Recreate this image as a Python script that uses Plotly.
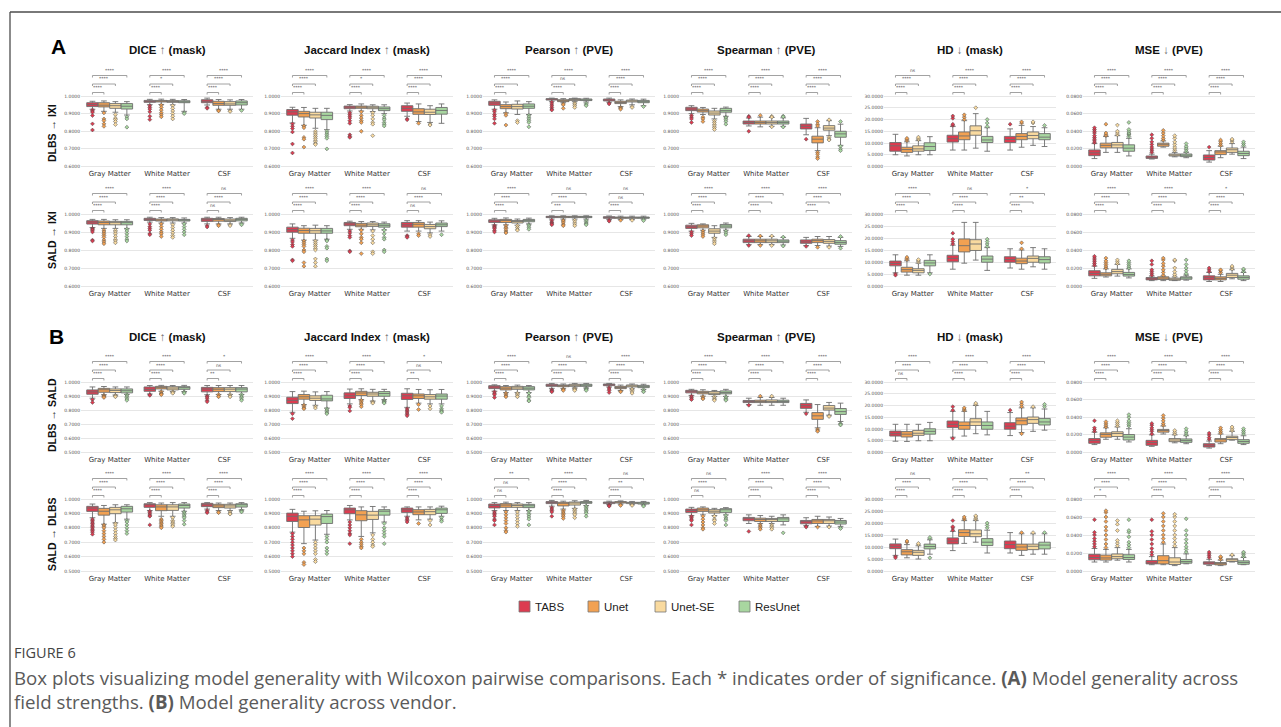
import plotly.graph_objects as go

# ---------------------------------------------------------------- labels
MODELS = ["TABS", "Unet", "Unet-SE", "ResUnet"]
COLORS = ["#dc3c50", "#f2a152", "#f9da9f", "#a8d6a0"]
TISSUES = ["Gray Matter", "White Matter", "CSF"]
METRIC_TITLES = ["DICE ↑ (mask)", "Jaccard Index ↑ (mask)", "Pearson ↑ (PVE)",
                 "Spearman ↑ (PVE)", "HD ↓ (mask)", "MSE ↓ (PVE)"]
ROW_LABELS = ["DLBS → IXI", "SALD → IXI", "DLBS → SALD", "SALD → DLBS"]
PANEL_LETTERS = ["A", "B"]

TICKS_A = [0.6, 0.7, 0.8, 0.9, 1.0]
TICKS_B = [0.5, 0.6, 0.7, 0.8, 0.9, 1.0]
TICKS_HD = [0, 5, 10, 15, 20, 25, 30]
TICKS_MSE = [0.0, 0.02, 0.04, 0.06, 0.08]

# ---------------------------------------------------------------- box statistics
# each box: (lower whisker, q1, median, q3, upper whisker, [outliers]) for GM, WM, CSF

# (A) DLBS -> IXI
DICE_A1 = {
    "TABS": [(0.925, 0.940, 0.951, 0.962, 0.970, [0.921, 0.915, 0.908, 0.889, 0.842, 0.807]),
             (0.951, 0.964, 0.970, 0.975, 0.981, [0.945, 0.935, 0.925, 0.910, 0.885, 0.866]),
             (0.949, 0.962, 0.970, 0.979, 0.988, [0.935, 0.930])],
    "Unet": [(0.913, 0.938, 0.948, 0.962, 0.972, [0.904, 0.870, 0.860, 0.842, 0.828]),
             (0.952, 0.966, 0.971, 0.975, 0.982, [0.948, 0.935, 0.920, 0.905, 0.893, 0.882]),
             (0.925, 0.947, 0.957, 0.970, 0.980, [0.918, 0.915])],
    "Unet-SE": [(0.908, 0.930, 0.945, 0.957, 0.968, [0.894, 0.875, 0.866, 0.855, 0.838]),
                (0.950, 0.964, 0.969, 0.974, 0.981, [0.945, 0.930, 0.915, 0.900, 0.885, 0.870]),
                (0.925, 0.947, 0.955, 0.968, 0.978, [0.915, 0.912])],
    "ResUnet": [(0.892, 0.926, 0.942, 0.957, 0.968, [0.881, 0.870, 0.823]),
                (0.913, 0.962, 0.966, 0.973, 0.980, [0.905, 0.900]),
                (0.925, 0.949, 0.962, 0.972, 0.980, [0.918])],
}
JACC_A1 = {
    "TABS": [(0.847, 0.891, 0.910, 0.923, 0.936, [0.842, 0.828, 0.815, 0.796, 0.728, 0.677]),
             (0.915, 0.928, 0.937, 0.943, 0.951, [0.905, 0.895, 0.885, 0.875, 0.860, 0.845, 0.780, 0.770, 0.765]),
             (0.885, 0.913, 0.930, 0.945, 0.960, [0.870, 0.865])],
    "Unet": [(0.834, 0.881, 0.900, 0.913, 0.935, [0.830, 0.820, 0.765, 0.755, 0.710]),
             (0.915, 0.930, 0.939, 0.943, 0.955, [0.910, 0.890, 0.875, 0.860, 0.850, 0.800]),
             (0.855, 0.896, 0.910, 0.928, 0.955, [0.845])],
    "Unet-SE": [(0.817, 0.875, 0.893, 0.908, 0.930, [0.800, 0.790, 0.780, 0.770, 0.760, 0.750, 0.740, 0.730, 0.725]),
                (0.912, 0.928, 0.936, 0.942, 0.950, [0.905, 0.890, 0.870, 0.850, 0.840, 0.775]),
                (0.850, 0.895, 0.908, 0.925, 0.945, [0.840, 0.835])],
    "ResUnet": [(0.809, 0.866, 0.890, 0.908, 0.930, [0.800, 0.790, 0.780, 0.770, 0.760, 0.700]),
                (0.900, 0.917, 0.928, 0.938, 0.950, [0.890, 0.875, 0.865, 0.850, 0.840, 0.830]),
                (0.845, 0.897, 0.918, 0.935, 0.955, [])],
}
PEAR_A1 = {
    "TABS": [(0.925, 0.947, 0.960, 0.970, 0.978, [0.920, 0.910, 0.895, 0.885, 0.870, 0.845]),
             (0.970, 0.977, 0.982, 0.985, 0.988, [0.965, 0.955, 0.945, 0.935, 0.925, 0.920]),
             (0.965, 0.972, 0.977, 0.983, 0.988, [0.960, 0.955])],
    "Unet": [(0.905, 0.928, 0.940, 0.951, 0.966, [0.900, 0.890, 0.835]),
             (0.962, 0.968, 0.972, 0.979, 0.985, [0.955, 0.950, 0.930]),
             (0.940, 0.957, 0.963, 0.970, 0.978, [0.935, 0.930, 0.925])],
    "Unet-SE": [(0.895, 0.926, 0.940, 0.953, 0.972, [0.860, 0.850]),
                (0.968, 0.975, 0.981, 0.985, 0.988, [0.960, 0.955, 0.945, 0.935]),
                (0.950, 0.966, 0.972, 0.977, 0.983, [0.940, 0.935])],
    "ResUnet": [(0.895, 0.930, 0.942, 0.955, 0.968, [0.890, 0.880, 0.870, 0.860, 0.850, 0.825]),
                (0.966, 0.974, 0.978, 0.983, 0.987, [0.958, 0.950, 0.945]),
                (0.945, 0.962, 0.968, 0.975, 0.982, [0.940])],
}
SPEA_A1 = {
    "TABS": [(0.900, 0.917, 0.926, 0.936, 0.945, [0.890, 0.880, 0.870, 0.850]),
             (0.830, 0.841, 0.850, 0.858, 0.875, [0.885, 0.880, 0.800]),
             (0.780, 0.813, 0.828, 0.841, 0.873, [0.755])],
    "Unet": [(0.895, 0.909, 0.917, 0.926, 0.935, [0.880, 0.870, 0.855]),
             (0.825, 0.841, 0.850, 0.858, 0.880, [0.890]),
             (0.690, 0.734, 0.755, 0.772, 0.820, [0.855, 0.840, 0.830, 0.680, 0.670, 0.655, 0.645])],
    "Unet-SE": [(0.870, 0.892, 0.903, 0.915, 0.930, [0.860, 0.850, 0.840, 0.830, 0.820, 0.810]),
                (0.828, 0.841, 0.850, 0.858, 0.878, [0.885, 0.880, 0.825]),
                (0.775, 0.806, 0.818, 0.832, 0.860, [0.865, 0.765, 0.755, 0.750])],
    "ResUnet": [(0.885, 0.908, 0.917, 0.930, 0.937, [0.880, 0.875, 0.865, 0.855, 0.840]),
                (0.828, 0.841, 0.850, 0.858, 0.876, [0.886, 0.882, 0.824]),
                (0.720, 0.766, 0.785, 0.800, 0.840, [0.855, 0.715, 0.700, 0.690])],
}
HD_A1 = {
    "TABS": [(5.0, 6.5, 8.8, 10.2, 13.7, []),
             (7.0, 10.4, 11.8, 13.3, 17.0, [17.5, 18.0, 20.5, 21.5]),
             (7.0, 10.2, 11.5, 12.8, 16.0, [18.0])],
    "Unet": [(4.5, 6.0, 7.2, 8.2, 10.5, [11.0, 11.5, 12.0]),
             (7.0, 11.4, 13.0, 14.7, 19.5, [20.0, 21.0, 22.0]),
             (8.2, 11.4, 12.8, 14.0, 17.5, [18.5, 19.0])],
    "Unet-SE": [(5.0, 6.5, 7.5, 8.8, 11.0, [11.5, 12.0, 12.5]),
                (7.8, 13.3, 15.2, 17.3, 22.5, [25.0]),
                (9.0, 11.8, 13.2, 14.7, 17.0, [18.5, 19.0])],
    "ResUnet": [(5.0, 6.8, 8.5, 10.1, 12.7, []),
                (6.5, 10.2, 11.3, 12.8, 16.5, [17.0, 18.5, 20.0]),
                (8.5, 11.4, 12.5, 14.0, 16.5, [17.5])],
}
MSE_A1 = {
    "TABS": [(0.009, 0.0123, 0.0155, 0.0188, 0.026, [0.027, 0.029, 0.031, 0.033, 0.035, 0.038, 0.040, 0.042, 0.044]),
             (0.0085, 0.0092, 0.0105, 0.0119, 0.014, [0.016, 0.018, 0.020, 0.022, 0.025, 0.028, 0.032, 0.036]),
             (0.005, 0.0073, 0.0102, 0.0131, 0.018, [0.022])],
    "Unet": [(0.016, 0.0212, 0.024, 0.0265, 0.034, [0.035, 0.036, 0.038, 0.048]),
             (0.022, 0.023, 0.0252, 0.0265, 0.029, [0.030, 0.032, 0.035, 0.038, 0.041]),
             (0.010, 0.0135, 0.0165, 0.018, 0.023, [0.024, 0.026, 0.028, 0.030])],
    "Unet-SE": [(0.016, 0.0212, 0.0245, 0.0273, 0.035, [0.036, 0.038, 0.040, 0.047]),
                (0.011, 0.0119, 0.013, 0.0142, 0.016, [0.018, 0.020, 0.022, 0.025, 0.028, 0.032, 0.035]),
                (0.014, 0.016, 0.019, 0.021, 0.026, [0.028, 0.030, 0.031])],
    "ResUnet": [(0.012, 0.0173, 0.0208, 0.0246, 0.032, [0.034, 0.036, 0.037, 0.038, 0.040, 0.042, 0.050]),
                (0.010, 0.0112, 0.0128, 0.0142, 0.016, [0.017, 0.019, 0.021, 0.023, 0.026]),
                (0.009, 0.0123, 0.0148, 0.0173, 0.022, [0.024, 0.026, 0.028])],
}

# (A) SALD -> IXI
DICE_A2 = {
    "TABS": [(0.925, 0.944, 0.955, 0.963, 0.970, [0.920, 0.915, 0.910, 0.900, 0.855, 0.850]),
             (0.955, 0.964, 0.972, 0.976, 0.982, [0.945, 0.930, 0.920, 0.910, 0.890, 0.885]),
             (0.945, 0.959, 0.968, 0.976, 0.982, [0.935, 0.928])],
    "Unet": [(0.920, 0.940, 0.953, 0.961, 0.970, [0.910, 0.900, 0.890, 0.880, 0.870, 0.855, 0.845, 0.835]),
             (0.950, 0.961, 0.968, 0.972, 0.980, [0.945, 0.930, 0.915, 0.900, 0.890, 0.875]),
             (0.945, 0.960, 0.970, 0.975, 0.982, [0.940, 0.935])],
    "Unet-SE": [(0.920, 0.940, 0.952, 0.959, 0.968, [0.910, 0.900, 0.890, 0.875, 0.860, 0.850, 0.840]),
                (0.950, 0.962, 0.969, 0.973, 0.980, [0.940, 0.925, 0.910, 0.895, 0.880, 0.870]),
                (0.945, 0.958, 0.965, 0.972, 0.980, [0.940, 0.935])],
    "ResUnet": [(0.920, 0.940, 0.952, 0.959, 0.968, [0.915, 0.905, 0.890, 0.875, 0.860, 0.850]),
                (0.950, 0.961, 0.966, 0.970, 0.978, [0.945, 0.930, 0.915, 0.900, 0.885]),
                (0.950, 0.962, 0.970, 0.976, 0.982, [0.945, 0.940])],
}
JACC_A2 = {
    "TABS": [(0.865, 0.899, 0.913, 0.927, 0.945, [0.855, 0.845, 0.830, 0.820, 0.745, 0.740]),
             (0.915, 0.935, 0.945, 0.953, 0.960, [0.905, 0.895, 0.880, 0.870, 0.795, 0.790]),
             (0.905, 0.927, 0.940, 0.953, 0.963, [0.880, 0.875, 0.870])],
    "Unet": [(0.855, 0.893, 0.908, 0.921, 0.935, [0.850, 0.840, 0.830, 0.820, 0.800, 0.790, 0.730, 0.710]),
             (0.915, 0.929, 0.938, 0.948, 0.958, [0.910, 0.890, 0.870, 0.860, 0.840, 0.780]),
             (0.905, 0.927, 0.943, 0.953, 0.963, [0.890, 0.880])],
    "Unet-SE": [(0.855, 0.893, 0.907, 0.920, 0.938, [0.850, 0.840, 0.830, 0.820, 0.810, 0.800, 0.750, 0.730, 0.710]),
                (0.912, 0.931, 0.940, 0.950, 0.958, [0.905, 0.880, 0.860, 0.840, 0.790, 0.780]),
                (0.895, 0.918, 0.930, 0.942, 0.955, [0.885, 0.875])],
    "ResUnet": [(0.860, 0.893, 0.906, 0.920, 0.935, [0.855, 0.850, 0.820, 0.810, 0.750, 0.740]),
                (0.912, 0.927, 0.937, 0.946, 0.955, [0.910, 0.890, 0.870, 0.860, 0.800, 0.790]),
                (0.905, 0.930, 0.940, 0.950, 0.962, [0.885])],
}
PEAR_A2 = {
    "TABS": [(0.940, 0.953, 0.962, 0.968, 0.976, [0.935, 0.930, 0.925, 0.920, 0.910, 0.900]),
             (0.972, 0.980, 0.984, 0.987, 0.990, [0.965, 0.955, 0.950, 0.945, 0.940]),
             (0.970, 0.976, 0.981, 0.985, 0.989, [0.965, 0.960])],
    "Unet": [(0.940, 0.953, 0.964, 0.970, 0.978, [0.935, 0.925, 0.920, 0.910, 0.900, 0.895]),
             (0.972, 0.980, 0.984, 0.987, 0.990, [0.965, 0.960, 0.950, 0.940, 0.935]),
             (0.970, 0.976, 0.980, 0.983, 0.988, [0.965])],
    "Unet-SE": [(0.938, 0.950, 0.958, 0.964, 0.972, [0.935, 0.925, 0.915, 0.910]),
                (0.972, 0.980, 0.984, 0.987, 0.990, [0.965, 0.955, 0.945, 0.935]),
                (0.970, 0.976, 0.980, 0.983, 0.988, [0.965])],
    "ResUnet": [(0.945, 0.957, 0.965, 0.970, 0.977, [0.940, 0.935, 0.925, 0.915]),
                (0.972, 0.980, 0.984, 0.987, 0.990, [0.965, 0.958, 0.950, 0.945, 0.940]),
                (0.972, 0.976, 0.980, 0.983, 0.988, [0.968, 0.963])],
}
SPEA_A2 = {
    "TABS": [(0.905, 0.920, 0.929, 0.938, 0.948, [0.900, 0.890, 0.880]),
             (0.830, 0.841, 0.851, 0.860, 0.875, [0.880, 0.825]),
             (0.825, 0.837, 0.845, 0.856, 0.870, [0.820])],
    "Unet": [(0.910, 0.923, 0.933, 0.940, 0.945, [0.905, 0.895, 0.885, 0.875]),
             (0.830, 0.841, 0.851, 0.860, 0.875, [0.878, 0.825]),
             (0.825, 0.841, 0.852, 0.860, 0.875, [0.815])],
    "Unet-SE": [(0.870, 0.893, 0.905, 0.918, 0.935, [0.865, 0.855, 0.845, 0.835]),
                (0.830, 0.841, 0.851, 0.860, 0.875, [0.878, 0.825]),
                (0.822, 0.837, 0.848, 0.858, 0.875, [0.815])],
    "ResUnet": [(0.910, 0.923, 0.933, 0.942, 0.950, [0.905, 0.895, 0.885]),
                (0.828, 0.841, 0.849, 0.856, 0.870, [0.872, 0.822]),
                (0.820, 0.832, 0.842, 0.852, 0.870, [0.875, 0.810])],
}
HD_A2 = {
    "TABS": [(5.5, 8.4, 9.4, 10.4, 13.0, [5.0, 4.5]),
             (7.0, 10.1, 11.5, 12.8, 17.0, [17.5, 18.5, 19.5, 22.0]),
             (7.5, 9.9, 11.0, 12.2, 15.5, [])],
    "Unet": [(4.5, 5.8, 6.8, 7.8, 10.5, [11.0, 11.5, 12.0]),
             (9.5, 14.2, 16.8, 19.6, 26.5, []),
             (7.0, 9.3, 10.4, 11.6, 15.0, [15.5, 18.0])],
    "Unet-SE": [(4.5, 5.5, 6.5, 7.2, 9.5, [10.0, 10.5, 11.0]),
                (10.8, 14.8, 17.5, 19.3, 26.5, []),
                (8.0, 9.9, 11.5, 12.5, 16.0, [])],
    "ResUnet": [(5.5, 8.4, 9.6, 10.7, 13.0, [5.0]),
                (6.5, 9.9, 11.2, 12.5, 16.0, [16.5, 17.5, 18.5, 19.5]),
                (7.0, 9.6, 11.0, 12.2, 15.5, [])],
}
MSE_A2 = {
    "TABS": [(0.0085, 0.0113, 0.0140, 0.0170, 0.022, [0.023, 0.025, 0.027, 0.029, 0.031, 0.033]),
             (0.006, 0.0068, 0.0080, 0.0094, 0.011, [0.012, 0.014, 0.016, 0.018, 0.024, 0.028]),
             (0.005, 0.0068, 0.0092, 0.0113, 0.015, [0.016, 0.018, 0.020])],
    "Unet": [(0.010, 0.0113, 0.0130, 0.0147, 0.019, [0.020, 0.022, 0.024, 0.026, 0.028, 0.031]),
             (0.006, 0.0072, 0.0088, 0.0102, 0.011, [0.012, 0.015, 0.018, 0.022, 0.025, 0.029, 0.031]),
             (0.005, 0.0068, 0.0085, 0.0102, 0.013, [0.015, 0.017, 0.018])],
    "Unet-SE": [(0.011, 0.0136, 0.0160, 0.0185, 0.024, [0.025, 0.027, 0.029]),
                (0.006, 0.0064, 0.0075, 0.0087, 0.010, [0.011, 0.013, 0.016, 0.020, 0.028, 0.029]),
                (0.008, 0.0094, 0.0120, 0.0140, 0.018, [0.019, 0.021, 0.022])],
    "ResUnet": [(0.009, 0.0110, 0.0128, 0.0151, 0.019, [0.020, 0.022, 0.024, 0.026, 0.028]),
                (0.0065, 0.0075, 0.0090, 0.0102, 0.012, [0.013, 0.014, 0.017, 0.020, 0.024, 0.029]),
                (0.006, 0.0075, 0.0095, 0.0113, 0.015, [0.016, 0.018, 0.019])],
}

# (B) DLBS -> SALD
DICE_B1 = {
    "TABS": [(0.885, 0.913, 0.930, 0.944, 0.965, [0.875, 0.855]),
             (0.915, 0.934, 0.948, 0.965, 0.975, [0.910, 0.905]),
             (0.910, 0.930, 0.950, 0.962, 0.975, [0.900, 0.895, 0.885, 0.870, 0.860])],
    "Unet": [(0.910, 0.927, 0.945, 0.955, 0.968, [0.905, 0.900, 0.895, 0.890]),
             (0.935, 0.951, 0.962, 0.969, 0.976, [0.930, 0.920, 0.915, 0.910]),
             (0.912, 0.932, 0.949, 0.960, 0.975, [0.910, 0.900, 0.895])],
    "Unet-SE": [(0.908, 0.925, 0.940, 0.951, 0.965, [0.905, 0.900, 0.895]),
                (0.932, 0.944, 0.957, 0.967, 0.975, [0.930, 0.925, 0.920]),
                (0.912, 0.932, 0.949, 0.960, 0.975, [0.910, 0.900, 0.895])],
    "ResUnet": [(0.912, 0.923, 0.938, 0.951, 0.965, [0.910, 0.900, 0.890, 0.880, 0.870]),
                (0.932, 0.948, 0.960, 0.967, 0.976, [0.930, 0.925, 0.920]),
                (0.912, 0.930, 0.950, 0.960, 0.975, [0.910, 0.900, 0.890, 0.880, 0.870])],
}
JACC_B1 = {
    "TABS": [(0.785, 0.847, 0.870, 0.892, 0.932, [0.775, 0.740]),
             (0.845, 0.883, 0.902, 0.923, 0.950, [0.830, 0.820, 0.795]),
             (0.820, 0.876, 0.902, 0.920, 0.952, [0.810, 0.800, 0.790, 0.780, 0.770, 0.760])],
    "Unet": [(0.840, 0.878, 0.895, 0.911, 0.935, [0.835, 0.825, 0.815, 0.810]),
             (0.875, 0.904, 0.922, 0.934, 0.952, [0.870, 0.860, 0.850, 0.840, 0.825]),
             (0.850, 0.883, 0.902, 0.915, 0.947, [0.840, 0.805])],
    "Unet-SE": [(0.835, 0.869, 0.885, 0.902, 0.930, [0.825, 0.815]),
                (0.865, 0.899, 0.915, 0.927, 0.948, [0.860, 0.855, 0.850]),
                (0.845, 0.878, 0.895, 0.911, 0.945, [0.830, 0.810])],
    "ResUnet": [(0.815, 0.866, 0.880, 0.906, 0.932, [0.810, 0.800, 0.790, 0.780, 0.775]),
                (0.875, 0.899, 0.918, 0.932, 0.948, [0.870, 0.865, 0.860, 0.855, 0.850]),
                (0.845, 0.878, 0.900, 0.915, 0.947, [0.830, 0.810, 0.800, 0.790, 0.785])],
}
PEAR_B1 = {
    "TABS": [(0.935, 0.953, 0.965, 0.974, 0.980, [0.930, 0.920, 0.910, 0.890]),
             (0.955, 0.969, 0.977, 0.984, 0.990, [0.945, 0.940, 0.935, 0.930]),
             (0.965, 0.974, 0.981, 0.986, 0.990, [0.960, 0.950, 0.940, 0.925])],
    "Unet": [(0.925, 0.944, 0.956, 0.967, 0.975, [0.920, 0.910, 0.900, 0.895]),
             (0.955, 0.967, 0.974, 0.979, 0.986, [0.950, 0.945, 0.940]),
             (0.940, 0.953, 0.961, 0.969, 0.978, [0.935, 0.930])],
    "Unet-SE": [(0.925, 0.948, 0.958, 0.969, 0.978, [0.920, 0.910, 0.900, 0.895]),
                (0.958, 0.969, 0.978, 0.984, 0.990, [0.955, 0.950, 0.945, 0.940]),
                (0.952, 0.965, 0.973, 0.979, 0.986, [0.950, 0.940, 0.930, 0.920])],
    "ResUnet": [(0.925, 0.944, 0.956, 0.967, 0.975, [0.920, 0.900, 0.890, 0.870, 0.865]),
                (0.958, 0.969, 0.977, 0.984, 0.990, [0.955, 0.950, 0.945, 0.940]),
                (0.948, 0.960, 0.969, 0.976, 0.984, [0.945, 0.935, 0.930])],
}
SPEA_B1 = {
    "TABS": [(0.905, 0.923, 0.935, 0.941, 0.948, [0.900, 0.890, 0.880, 0.875]),
             (0.840, 0.854, 0.860, 0.869, 0.885, [0.835]),
             (0.785, 0.813, 0.832, 0.848, 0.873, [0.775])],
    "Unet": [(0.900, 0.916, 0.925, 0.934, 0.945, [0.895, 0.885, 0.880]),
             (0.835, 0.854, 0.862, 0.871, 0.890, [0.900]),
             (0.675, 0.735, 0.760, 0.783, 0.840, [0.665, 0.655, 0.650])],
    "Unet-SE": [(0.898, 0.911, 0.920, 0.932, 0.940, [0.895, 0.885, 0.875, 0.870]),
                (0.835, 0.854, 0.862, 0.873, 0.890, [0.900]),
                (0.765, 0.801, 0.815, 0.833, 0.855, [0.760, 0.755])],
    "ResUnet": [(0.898, 0.916, 0.925, 0.937, 0.948, [0.895, 0.885, 0.875, 0.870]),
                (0.835, 0.854, 0.862, 0.871, 0.885, []),
                (0.720, 0.770, 0.790, 0.812, 0.850, [0.705, 0.700, 0.695])],
}
HD_B1 = {
    "TABS": [(4.8, 7.0, 8.0, 9.1, 12.0, []),
             (6.5, 10.6, 12.0, 13.4, 17.5, [6.0, 18.0, 19.5]),
             (7.2, 9.9, 11.2, 12.7, 17.0, [18.0])],
    "Unet": [(4.7, 6.6, 7.8, 8.9, 12.0, []),
             (7.0, 9.9, 11.5, 13.0, 17.5, [18.0, 18.5, 19.0]),
             (8.5, 11.8, 13.5, 14.7, 19.0, [8.0, 19.5, 20.5, 21.5])],
    "Unet-SE": [(5.0, 7.3, 8.2, 9.4, 12.0, []),
                (8.0, 11.5, 13.0, 14.4, 20.0, [20.5, 21.0]),
                (9.0, 12.4, 14.0, 15.1, 19.0, [19.5])],
    "ResUnet": [(5.0, 7.8, 9.0, 10.1, 12.8, []),
                (7.5, 9.9, 11.5, 13.0, 17.5, []),
                (9.5, 11.7, 13.0, 14.5, 18.5, [19.5, 20.5])],
}
MSE_B1 = {
    "TABS": [(0.009, 0.0104, 0.0135, 0.0158, 0.023, [0.024, 0.026, 0.028, 0.036]),
             (0.007, 0.0081, 0.0112, 0.0138, 0.020, [0.021, 0.024, 0.026, 0.028, 0.031, 0.033]),
             (0.005, 0.0062, 0.0082, 0.0100, 0.013, [0.015, 0.017, 0.020, 0.022])],
    "Unet": [(0.015, 0.0173, 0.0205, 0.0223, 0.028, [0.029, 0.031, 0.033, 0.035]),
             (0.021, 0.0231, 0.0250, 0.0262, 0.030, [0.031, 0.033, 0.036, 0.039, 0.042]),
             (0.010, 0.0119, 0.0145, 0.0158, 0.021, [0.022, 0.024, 0.026, 0.028])],
    "Unet-SE": [(0.015, 0.0181, 0.0215, 0.0235, 0.029, [0.030, 0.032, 0.034, 0.036]),
                (0.011, 0.0123, 0.0142, 0.0158, 0.020, [0.021, 0.023, 0.025]),
                (0.014, 0.0146, 0.0170, 0.0185, 0.024, [0.025, 0.027, 0.029])],
    "ResUnet": [(0.012, 0.0142, 0.0175, 0.0204, 0.027, [0.030, 0.032, 0.034, 0.036, 0.040, 0.043]),
                (0.010, 0.0115, 0.0135, 0.0154, 0.019, [0.020, 0.022, 0.024, 0.027]),
                (0.009, 0.0104, 0.0125, 0.0146, 0.019, [0.021, 0.023, 0.025, 0.027])],
}

# (B) SALD -> DLBS
DICE_B2 = {
    "TABS": [(0.870, 0.914, 0.937, 0.949, 0.965, [0.860, 0.850, 0.840, 0.830, 0.820, 0.810, 0.800, 0.790, 0.780, 0.770, 0.755]),
             (0.920, 0.942, 0.960, 0.967, 0.975, [0.915, 0.905, 0.895, 0.885, 0.880, 0.820]),
             (0.930, 0.947, 0.960, 0.970, 0.975, [0.920, 0.910, 0.905])],
    "Unet": [(0.825, 0.888, 0.915, 0.935, 0.955, [0.820, 0.810, 0.800, 0.780, 0.760, 0.740, 0.720, 0.700]),
             (0.880, 0.919, 0.945, 0.960, 0.972, [0.860, 0.850, 0.840, 0.830, 0.820, 0.810, 0.800]),
             (0.920, 0.940, 0.952, 0.963, 0.972, [0.910, 0.905])],
    "Unet-SE": [(0.835, 0.898, 0.925, 0.942, 0.960, [0.830, 0.820, 0.800, 0.780, 0.760, 0.740, 0.725, 0.715]),
                (0.880, 0.921, 0.945, 0.960, 0.975, [0.870, 0.850, 0.840, 0.830, 0.820, 0.810]),
                (0.920, 0.937, 0.952, 0.963, 0.972, [0.910, 0.900, 0.895])],
    "ResUnet": [(0.860, 0.909, 0.932, 0.949, 0.960, [0.850, 0.840, 0.820, 0.800, 0.780, 0.760]),
                (0.915, 0.937, 0.955, 0.965, 0.975, [0.910, 0.900, 0.890, 0.880, 0.870, 0.850, 0.825]),
                (0.925, 0.944, 0.960, 0.967, 0.975, [0.920, 0.915, 0.910])],
}
JACC_B2 = {
    "TABS": [(0.770, 0.844, 0.880, 0.902, 0.928, [0.760, 0.740, 0.720, 0.700, 0.680, 0.660, 0.640, 0.620, 0.600]),
             (0.855, 0.898, 0.925, 0.937, 0.955, [0.840, 0.820, 0.800, 0.780, 0.760, 0.750, 0.690]),
             (0.880, 0.907, 0.925, 0.937, 0.945, [0.870, 0.860, 0.850, 0.840])],
    "Unet": [(0.690, 0.802, 0.855, 0.884, 0.915, [0.660, 0.640, 0.620, 0.560, 0.545]),
             (0.740, 0.849, 0.890, 0.919, 0.945, [0.720, 0.700, 0.685, 0.670, 0.660]),
             (0.855, 0.891, 0.910, 0.926, 0.945, [0.830])],
    "Unet-SE": [(0.715, 0.819, 0.860, 0.884, 0.918, [0.700, 0.680, 0.660, 0.640, 0.620, 0.580, 0.565]),
                (0.765, 0.858, 0.888, 0.914, 0.948, [0.750, 0.720, 0.700, 0.680, 0.670]),
                (0.860, 0.891, 0.912, 0.928, 0.945, [0.850, 0.820])],
    "ResUnet": [(0.755, 0.830, 0.878, 0.895, 0.920, [0.740, 0.720, 0.700, 0.660, 0.640, 0.620]),
                (0.840, 0.888, 0.915, 0.926, 0.945, [0.830, 0.800, 0.780, 0.760, 0.740, 0.690]),
                (0.880, 0.900, 0.925, 0.937, 0.950, [0.870, 0.855, 0.845])],
}
PEAR_B2 = {
    "TABS": [(0.920, 0.938, 0.955, 0.965, 0.975, [0.910, 0.900, 0.890, 0.880, 0.860, 0.850, 0.820]),
             (0.950, 0.968, 0.977, 0.982, 0.990, [0.940, 0.930, 0.920, 0.910, 0.880]),
             (0.962, 0.968, 0.975, 0.979, 0.985, [0.958, 0.955, 0.950])],
    "Unet": [(0.920, 0.942, 0.958, 0.968, 0.978, [0.910, 0.890, 0.870, 0.850, 0.830, 0.800, 0.780, 0.770]),
             (0.930, 0.952, 0.970, 0.977, 0.985, [0.920, 0.910, 0.900, 0.890, 0.880, 0.865]),
             (0.965, 0.972, 0.978, 0.982, 0.987, [0.960, 0.955])],
    "Unet-SE": [(0.920, 0.942, 0.955, 0.965, 0.975, [0.910, 0.890, 0.870, 0.850, 0.830, 0.810]),
                (0.935, 0.958, 0.972, 0.979, 0.988, [0.930, 0.920, 0.910, 0.900, 0.890, 0.870]),
                (0.963, 0.968, 0.974, 0.977, 0.983, [0.958, 0.955])],
    "ResUnet": [(0.920, 0.940, 0.953, 0.963, 0.975, [0.915, 0.900, 0.890, 0.875, 0.860, 0.820]),
                (0.955, 0.970, 0.977, 0.982, 0.990, [0.950, 0.940, 0.930, 0.920, 0.910, 0.900, 0.880]),
                (0.960, 0.965, 0.973, 0.977, 0.983, [0.955, 0.950])],
}
SPEA_B2 = {
    "TABS": [(0.885, 0.907, 0.920, 0.930, 0.942, [0.880, 0.870, 0.860, 0.850, 0.820]),
             (0.830, 0.849, 0.863, 0.872, 0.890, [0.775]),
             (0.815, 0.828, 0.842, 0.851, 0.870, [0.810, 0.805])],
    "Unet": [(0.890, 0.914, 0.925, 0.937, 0.945, [0.880, 0.860, 0.840, 0.820, 0.800, 0.790]),
             (0.830, 0.844, 0.858, 0.867, 0.885, [0.820, 0.810, 0.800, 0.790]),
             (0.810, 0.830, 0.848, 0.858, 0.880, [0.805])],
    "Unet-SE": [(0.885, 0.903, 0.915, 0.926, 0.935, [0.880, 0.860, 0.850, 0.830]),
                (0.830, 0.844, 0.857, 0.865, 0.880, [0.820, 0.810, 0.800, 0.790]),
                (0.812, 0.830, 0.849, 0.858, 0.875, [0.805])],
    "ResUnet": [(0.890, 0.907, 0.925, 0.933, 0.940, [0.885, 0.870, 0.860, 0.850, 0.820]),
                (0.820, 0.844, 0.862, 0.872, 0.890, [0.765]),
                (0.810, 0.826, 0.840, 0.851, 0.865, [0.800, 0.795])],
}
HD_B2 = {
    "TABS": [(6.5, 9.3, 10.3, 11.3, 13.3, [6.0, 5.5]),
             (8.5, 11.3, 12.5, 13.8, 16.5, [17.0, 18.0, 18.5, 21.0]),
             (7.5, 9.3, 11.0, 12.5, 16.0, [])],
    "Unet": [(5.5, 6.7, 8.0, 8.9, 11.0, [12.0, 12.5]),
             (11.5, 14.4, 16.0, 17.2, 21.0, [21.5, 22.0, 22.5]),
             (6.5, 8.6, 10.0, 11.2, 15.5, [16.0])],
    "Unet-SE": [(5.0, 6.5, 7.8, 8.6, 10.5, [11.0, 11.5]),
                (12.0, 14.3, 15.5, 17.1, 21.0, [21.5, 22.0, 22.5, 23.0]),
                (7.0, 8.9, 10.3, 11.2, 15.5, [16.0])],
    "ResUnet": [(7.0, 9.2, 10.2, 11.2, 13.0, [5.5, 13.5, 14.0]),
                (7.5, 10.6, 12.0, 13.5, 17.0, [18.0, 19.0, 20.0]),
                (7.0, 9.2, 10.8, 12.0, 15.5, [16.0])],
}
MSE_B2 = {
    "TABS": [(0.010, 0.0125, 0.0150, 0.0185, 0.025, [0.027, 0.030, 0.033, 0.036, 0.040, 0.043, 0.057]),
             (0.007, 0.0079, 0.0090, 0.0117, 0.016, [0.018, 0.021, 0.025, 0.030, 0.035, 0.040, 0.044, 0.057]),
             (0.006, 0.0075, 0.0090, 0.0102, 0.013, [0.015, 0.017, 0.019, 0.021])],
    "Unet": [(0.010, 0.0121, 0.0145, 0.0177, 0.024, [0.026, 0.030, 0.035, 0.040, 0.045, 0.049, 0.055, 0.060, 0.065, 0.067]),
             (0.007, 0.0079, 0.0115, 0.0170, 0.030, [0.032, 0.036, 0.040, 0.045, 0.050, 0.055, 0.060, 0.064]),
             (0.006, 0.0068, 0.0082, 0.0094, 0.012, [0.013, 0.015, 0.016])],
    "Unet-SE": [(0.012, 0.0136, 0.0160, 0.0189, 0.026, [0.028, 0.031, 0.034, 0.045, 0.052, 0.056]),
                (0.006, 0.0072, 0.0100, 0.0147, 0.026, [0.028, 0.032, 0.036, 0.040, 0.045, 0.050, 0.055, 0.060, 0.063]),
                (0.010, 0.0106, 0.0125, 0.0136, 0.017, [0.018])],
    "ResUnet": [(0.010, 0.0128, 0.0150, 0.0181, 0.024, [0.026, 0.029, 0.032, 0.038, 0.043, 0.045, 0.057]),
                (0.008, 0.0087, 0.0105, 0.0128, 0.019, [0.021, 0.024, 0.027, 0.031, 0.035, 0.040, 0.045, 0.058]),
                (0.007, 0.0075, 0.0095, 0.0113, 0.015, [0.016, 0.018, 0.020, 0.021])],
}

# ---------------------------------------------------------------- Wilcoxon annotations
# per metric, per tissue: TABS vs [Unet, Unet-SE, ResUnet]
A4 = ["****", "****", "****"]
SIG_DLBS_IXI = [
    [A4, ["****", "*", "****"], A4],
    [A4, ["****", "*", "****"], A4],
    [A4, ["****", "ns", "****"], A4],
    [A4, A4, A4],
    [["****", "****", "ns"], A4, A4],
    [A4, A4, A4],
]
SIG_SALD_IXI = [
    [A4, A4, ["ns", "****", "ns"]],
    [A4, A4, ["ns", "****", "ns"]],
    [A4, ["***", "****", "ns"], ["****", "ns", "ns"]],
    [A4, A4, A4],
    [A4, ["****", "****", "ns"], ["****", "**", "*"]],
    [A4, A4, ["****", "****", "*"]],
]
SIG_DLBS_SALD = [
    [A4, A4, ["**", "ns", "*"]],
    [A4, A4, ["**", "ns", "*"]],
    [A4, ["****", "****", "ns"], A4],
    [A4, A4, A4],
    [["ns", "****", "****"], A4, A4],
    [A4, A4, A4],
]
SIG_SALD_DLBS = [
    [A4, A4, A4],
    [A4, A4, A4],
    [["ns", "ns", "**"], A4, ["****", "**", "ns"]],
    [["ns", "****", "ns"], A4, A4],
    [["****", "****", "ns"], A4, ["****", "****", "**"]],
    [["*", "****", "****"], A4, A4],
]

GRID = [
    [DICE_A1, JACC_A1, PEAR_A1, SPEA_A1, HD_A1, MSE_A1],
    [DICE_A2, JACC_A2, PEAR_A2, SPEA_A2, HD_A2, MSE_A2],
    [DICE_B1, JACC_B1, PEAR_B1, SPEA_B1, HD_B1, MSE_B1],
    [DICE_B2, JACC_B2, PEAR_B2, SPEA_B2, HD_B2, MSE_B2],
]
SIGS = [SIG_DLBS_IXI, SIG_SALD_IXI, SIG_DLBS_SALD, SIG_SALD_DLBS]

CAPTION_HEAD = "FIGURE 6"
CAPTION_LINES = [
    "Box plots visualizing model generality with Wilcoxon pairwise comparisons. "
    "Each * indicates order of significance. <b>(A)</b> Model generality across",
    "field strengths. <b>(B)</b> Model generality across vendor.",
]

# ---------------------------------------------------------------- geometry (pixels)
W, H = 1281, 727
COL_PX = [(81, 253), (281, 453), (483, 655), (680, 852), (884, 1056), (1083, 1255)]
ROW_PX = [(96, 166.5), (214, 286), (382, 452.5), (499, 571)]   # top / bottom tick rows
OFFSETS = [-0.3, -0.1, 0.1, 0.3]
BOX_W = 0.2
BRACKET_UP = [3.5, 12.0, 20.5]
TITLE_Y = [50, 337]
LETTER_POS = [(58, 47), (56, 336)]
ROW_LABEL_Y = [133, 240, 415, 534]
LEGEND_X = [519, 588, 655, 739]

LINE_C = "#6e6e6e"
ARROWS = "↑↓"


def px(x):
    return x / W


def py(y):
    return 1 - y / H


def ticks_for(r, c):
    if c == 4:
        return TICKS_HD
    if c == 5:
        return TICKS_MSE
    return TICKS_A if r < 2 else TICKS_B


def title_html(title):
    # metric name, then a lighter arrow, then the target in parentheses
    i = next(k for k, ch in enumerate(title) if ch in ARROWS)
    return (f"<b>{title[:i]}<span style='color:#666'>{title[i]}</span>"
            f"{title[i + 1:]}</b>")


fig = go.Figure()
layout = {}
n = 0
for r in range(4):
    pt, pb = ROW_PX[r]
    for c in range(6):
        n += 1
        xa, ya = f"x{n}", f"y{n}"
        xkey = "xaxis" if n == 1 else f"xaxis{n}"
        ykey = "yaxis" if n == 1 else f"yaxis{n}"
        ticks = ticks_for(r, c)
        lo, hi = ticks[0], ticks[-1]
        s = (hi - lo) / (pb - pt)
        d_top, d_bot = pt - 8, pb + 1.5
        yr = [lo - (d_bot - pb) * s, hi + (pt - d_top) * s]
        x0, x1 = COL_PX[c]
        layout[xkey] = dict(domain=[px(x0), px(x1)], range=[-0.5, 2.5], anchor=ya,
                            tickmode="array", tickvals=[0, 1, 2], ticktext=TISSUES,
                            showgrid=False, zeroline=False, showline=False, ticks="",
                            tickfont=dict(family="DejaVu Sans", size=7, color="#333"),
                            fixedrange=True)
        layout[ykey] = dict(domain=[py(d_bot), py(d_top)], range=yr, anchor=xa,
                            tickmode="array", tickvals=ticks,
                            ticktext=[f"{v:.4f}" for v in ticks],
                            showgrid=True, gridcolor="#e6e6e6", gridwidth=1.2,
                            zeroline=False, showline=False, ticks="",
                            tickfont=dict(family="DejaVu Sans", size=4.5, color="#555"),
                            fixedrange=True)

        data = GRID[r][c]
        for m, model in enumerate(MODELS):
            boxes = data[model]
            xs = [t + OFFSETS[m] for t in range(3)]
            fig.add_trace(go.Box(
                x=xs, orientation="v",
                lowerfence=[b[0] for b in boxes], q1=[b[1] for b in boxes],
                median=[b[2] for b in boxes], q3=[b[3] for b in boxes],
                upperfence=[b[4] for b in boxes],
                width=BOX_W, whiskerwidth=0.5, boxpoints=False,
                fillcolor=COLORS[m], line=dict(color=LINE_C, width=0.9),
                xaxis=xa, yaxis=ya, showlegend=False, hoverinfo="skip"))
            ox, oy = [], []
            for t, b in enumerate(boxes):
                for v in b[5]:
                    ox.append(xs[t])
                    oy.append(v)
            fig.add_trace(go.Scatter(
                x=ox, y=oy, mode="markers", xaxis=xa, yaxis=ya, showlegend=False,
                hoverinfo="skip",
                marker=dict(symbol="diamond", size=3.0, color=COLORS[m],
                            line=dict(color="#4a4a4a", width=0.5))))

        # significance brackets: TABS vs each other model
        sig = SIGS[r][c]
        for t in range(3):
            for k in range(3):
                bx0 = t + OFFSETS[0]
                bx1 = t + OFFSETS[k + 1]
                yb = pt - BRACKET_UP[k]
                fig.add_shape(type="path",
                              path=f"M {bx0},{py(yb + 2)} L {bx0},{py(yb)} L {bx1},{py(yb)} L {bx1},{py(yb + 2)}",
                              xref=xa, yref="paper",
                              line=dict(color="#8a8a8a", width=0.8))
                fig.add_annotation(x=(bx0 + bx1) / 2, y=py(yb - 0.5), xref=xa, yref="paper",
                                   text=sig[t][k], showarrow=False, yanchor="bottom",
                                   xanchor="center",
                                   font=dict(family="DejaVu Sans", size=4.5, color="#555"))

# metric titles for both panels
for p in range(2):
    for c, title in enumerate(METRIC_TITLES):
        x0, x1 = COL_PX[c]
        fig.add_annotation(x=px((x0 + x1) / 2), y=py(TITLE_Y[p]), xref="paper", yref="paper",
                           text=title_html(title), showarrow=False, xanchor="center",
                           yanchor="middle",
                           font=dict(family="Liberation Sans", size=11.5, color="#111"))
    lx, ly = LETTER_POS[p]
    fig.add_annotation(x=px(lx), y=py(ly), xref="paper", yref="paper",
                       text=f"<b>{PANEL_LETTERS[p]}</b>", showarrow=False,
                       xanchor="center", yanchor="middle",
                       font=dict(family="Liberation Sans", size=21, color="#000"))

# row labels
for r, lab in enumerate(ROW_LABELS):
    fig.add_annotation(x=px(52), y=py(ROW_LABEL_Y[r]), xref="paper", yref="paper",
                       text=f"<b>{lab}</b>", textangle=-90, showarrow=False,
                       xanchor="center", yanchor="middle",
                       font=dict(family="Liberation Sans", size=10.5, color="#111"))

# legend
for m, model in enumerate(MODELS):
    lx = LEGEND_X[m]
    fig.add_shape(type="rect", xref="paper", yref="paper",
                  x0=px(lx), x1=px(lx + 11), y0=py(612), y1=py(601),
                  fillcolor=COLORS[m], line=dict(color="#777", width=0.8))
    fig.add_annotation(x=px(lx + 13.5), y=py(606.5), xref="paper", yref="paper",
                       text=model, showarrow=False, xanchor="left", yanchor="middle",
                       font=dict(family="Liberation Sans", size=11.5, color="#222"))

# frame
fig.add_shape(type="line", xref="paper", yref="paper", x0=px(10), x1=1, y0=py(12), y1=py(12),
              line=dict(color="#4d4d4d", width=1.3))
fig.add_shape(type="line", xref="paper", yref="paper", x0=px(10), x1=px(10), y0=py(12), y1=0,
              line=dict(color="#4d4d4d", width=1.3))

# caption
fig.add_annotation(x=px(12), y=py(652), xref="paper", yref="paper", text=CAPTION_HEAD,
                   showarrow=False, xanchor="left", yanchor="middle",
                   font=dict(family="Open Sans", size=14.5, color="#444"))
fig.add_annotation(x=px(12), y=py(663), xref="paper", yref="paper",
                   text="<br>".join(CAPTION_LINES), align="left",
                   showarrow=False, xanchor="left", yanchor="top",
                   font=dict(family="Open Sans", size=18.7, color="#5a5a5a"))

fig.update_layout(**layout)
fig.update_layout(width=W, height=H, autosize=False,
                  margin=dict(l=0, r=0, t=0, b=0),
                  paper_bgcolor="white", plot_bgcolor="white",
                  showlegend=False)

fig.write_html("out.html", config={"displayModeBar": False})
